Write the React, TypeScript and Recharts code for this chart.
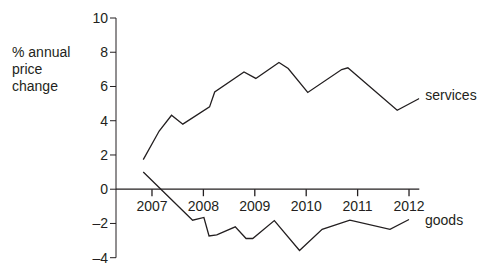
import React from "react";
import { LineChart, Line, XAxis, YAxis, ReferenceLine, ReferenceDot } from "recharts";

const servicesT = [2006.83, 2007.14, 2007.38, 2007.6, 2008.12, 2008.22, 2008.79, 2009.02, 2009.47, 2009.65, 2010.03, 2010.69, 2010.81, 2011.77, 2012.2];
const servicesV = [1.73, 3.4, 4.32, 3.8, 4.81, 5.68, 6.85, 6.47, 7.4, 7.05, 5.65, 6.99, 7.09, 4.61, 5.3];
const goodsT = [2006.83, 2007.79, 2008.01, 2008.11, 2008.26, 2008.62, 2008.83, 2008.96, 2009.38, 2009.87, 2010.31, 2010.85, 2011.63, 2012.0];
const goodsV = [1.01, -1.81, -1.65, -2.73, -2.67, -2.2, -2.88, -2.88, -1.83, -3.58, -2.34, -1.81, -2.34, -1.77];
const yearTicks = [2007, 2008, 2009, 2010, 2011, 2012];
const yTicks = [-4, -2, 0, 2, 4, 6, 8, 10];
const yTitle = ["% annual", "price", "change"];

const services = servicesT.map((t, i) => ({ t, v: servicesV[i] }));
const goods = goodsT.map((t, i) => ({ t, v: goodsV[i] }));

const INK = "#231f20";
const FONT = "'Liberation Sans', Arial, sans-serif";
const FS = 14;

const endLabel = (name: string, n: number, dx: number, dy: number) => (props: any) => {
  if (props.index !== n - 1) return null;
  return (
    <text x={props.x + dx} y={props.y + dy} fontSize={FS} fill={INK} fontFamily={FONT}>
      {name}
    </text>
  );
};

export default function App() {
  return (
    <div style={{ position: "absolute", left: 0, top: 0, width: 491, height: 278, background: "#fff" }}>
      <LineChart width={491} height={278} margin={{ top: 18, right: 71.7, bottom: 20.3, left: 0 }}>
        <XAxis type="number" dataKey="t" domain={[2006.3, 2012.2]} hide allowDataOverflow />
        <YAxis
          type="number"
          dataKey="v"
          width={116}
          domain={[-4, 10]}
          ticks={yTicks}
          interval={0}
          tickSize={6}
          tickMargin={2}
          stroke={INK}
          tick={{ fill: INK, fontSize: FS, fontFamily: FONT }}
          tickFormatter={(v: number) => String(v).replace("-", "\u2013")}
          label={{
            content: () => (
              <text fontSize={FS} fill={INK} fontFamily={FONT}>
                {yTitle.map((s, i) => (
                  <tspan key={i} x={12} y={57 + i * 17.2}>
                    {s}
                  </tspan>
                ))}
              </text>
            ),
          }}
        />
        <ReferenceLine y={0} stroke={INK} strokeWidth={1.3} />
        {yearTicks.map((yr) => (
          <ReferenceDot
            key={yr}
            x={yr}
            y={0}
            shape={(p: any) => (
              <g>
                <line x1={p.cx} y1={p.cy} x2={p.cx} y2={p.cy + 7} stroke={INK} strokeWidth={1.3} />
                <text x={p.cx} y={p.cy + 22} textAnchor="middle" fontSize={FS} fill={INK} fontFamily={FONT}>
                  {yr}
                </text>
              </g>
            )}
          />
        ))}
        <Line
          data={services}
          dataKey="v"
          stroke={INK}
          strokeWidth={1.3}
          dot={false}
          isAnimationActive={false}
          label={endLabel("services", services.length, 6, 2)}
        />
        <Line
          data={goods}
          dataKey="v"
          stroke={INK}
          strokeWidth={1.3}
          dot={false}
          isAnimationActive={false}
          label={endLabel("goods", goods.length, 16, 5)}
        />
      </LineChart>
    </div>
  );
}
